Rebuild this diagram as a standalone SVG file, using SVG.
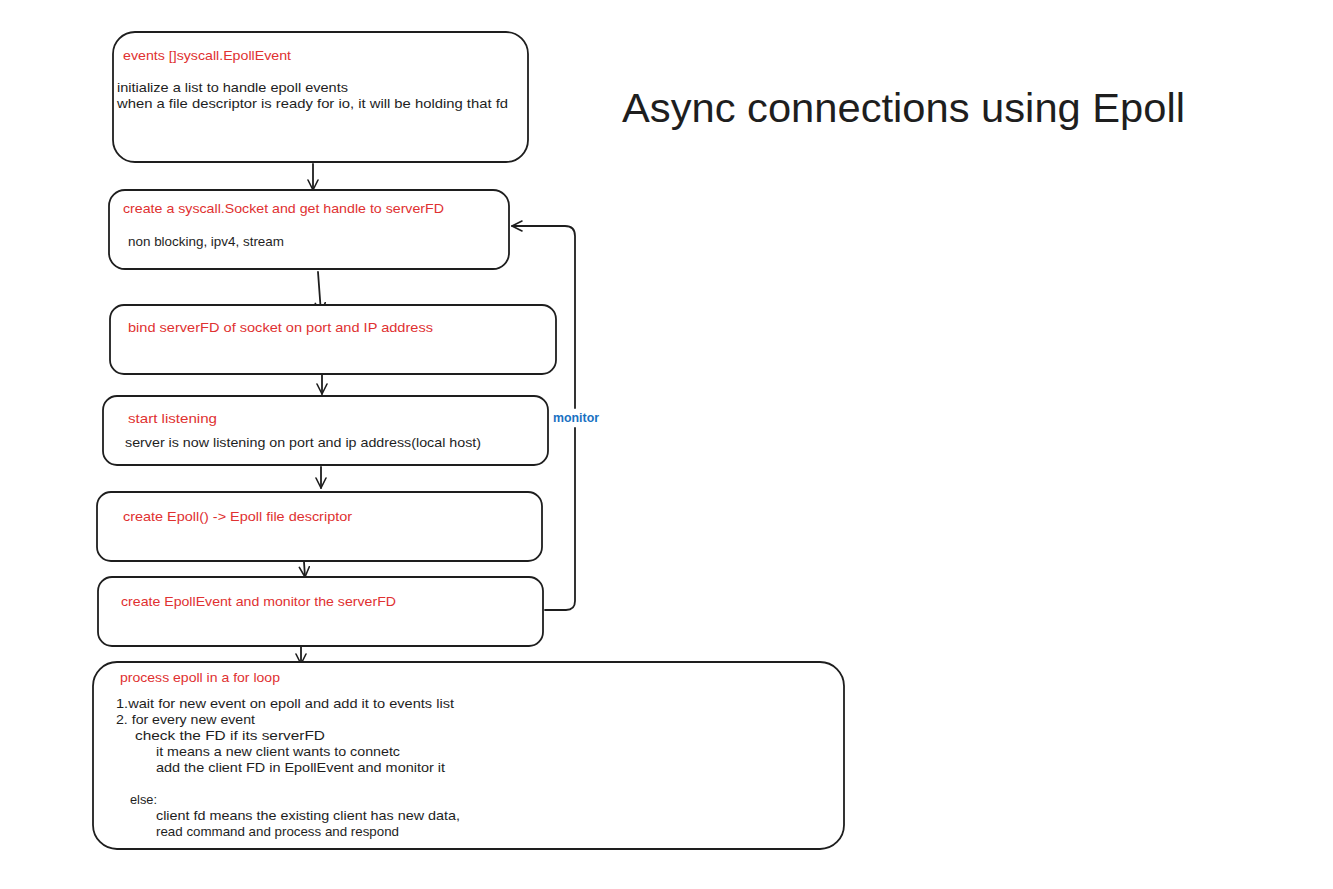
<svg xmlns="http://www.w3.org/2000/svg" width="1333" height="889" viewBox="0 0 1333 889">
<style>
.box{fill:#ffffff;stroke:#1e1e1e;stroke-width:1.8}
.r{fill:#e03131;font-family:"Liberation Sans",Arial,sans-serif;font-size:13px}
.k{fill:#1e1e1e;font-family:"Liberation Sans",Arial,sans-serif;font-size:13px}
.b{fill:#1971c2;font-family:"Liberation Sans",Arial,sans-serif;font-size:12px;font-weight:bold}
.t{fill:#1e1e1e;font-family:"Liberation Sans",Arial,sans-serif;font-size:40px}
.c{fill:none;stroke:#1e1e1e;stroke-width:1.8;stroke-linecap:round;stroke-linejoin:round}
</style>
<defs>
<marker id="ah" viewBox="0 0 12 12" refX="11" refY="6" markerWidth="12" markerHeight="12" markerUnits="userSpaceOnUse" orient="auto">
<path d="M1,1 L11,6 L1,11" fill="none" stroke="#1e1e1e" stroke-width="1.6" stroke-linecap="round" stroke-linejoin="round"/>
</marker>
</defs>
<rect width="1333" height="889" fill="#ffffff"/>
<g id="title">
<text class="t" x="622" y="122" textLength="563" lengthAdjust="spacingAndGlyphs">Async connections using Epoll</text>
</g>
<g id="connectors">
<path class="c" d="M313,164 L313,190" marker-end="url(#ah)"/>
<path class="c" d="M318,272 L321,313" marker-end="url(#ah)"/>
<path class="c" d="M322,375 L322,394" marker-end="url(#ah)"/>
<path class="c" d="M321,467 L321,488" marker-end="url(#ah)"/>
<path class="c" d="M304,562 L305,577" marker-end="url(#ah)"/>
<path class="c" d="M301,647 L301,664" marker-end="url(#ah)"/>
<path class="c" d="M545,610 L566,610 Q575,610 575,601 L575,428 M575,408 L575,236 Q575,226 565,226 L512,226" marker-end="url(#ah)"/>
<text class="b" x="553" y="422" textLength="46" lengthAdjust="spacingAndGlyphs">monitor</text>
</g>
<g id="n1">
<rect class="box" x="113" y="32" width="415" height="130" rx="22"/>
<text class="r" x="123" y="60" textLength="168" lengthAdjust="spacingAndGlyphs">events []syscall.EpollEvent</text>
<text class="k" x="117" y="92" textLength="231" lengthAdjust="spacingAndGlyphs">initialize a list to handle epoll events</text>
<text class="k" x="117" y="108" textLength="391" lengthAdjust="spacingAndGlyphs">when a file descriptor is ready for io, it will be holding that fd</text>
</g>
<g id="n2">
<rect class="box" x="109" y="190" width="400" height="79" rx="16"/>
<text class="r" x="123" y="213" textLength="321" lengthAdjust="spacingAndGlyphs">create a syscall.Socket and get handle to serverFD</text>
<text class="k" x="128" y="246" textLength="156" lengthAdjust="spacingAndGlyphs">non blocking, ipv4, stream</text>
</g>
<g id="n3">
<rect class="box" x="110" y="305" width="446" height="69" rx="14"/>
<text class="r" x="128" y="332" textLength="305" lengthAdjust="spacingAndGlyphs">bind serverFD of socket on port and IP address</text>
</g>
<g id="n4">
<rect class="box" x="103" y="396" width="445" height="69" rx="14"/>
<text class="r" x="128" y="423" textLength="89" lengthAdjust="spacingAndGlyphs">start listening</text>
<text class="k" x="125" y="447" textLength="356" lengthAdjust="spacingAndGlyphs">server is now listening on port and ip address(local host)</text>
</g>
<g id="n5">
<rect class="box" x="97" y="492" width="445" height="69" rx="14"/>
<text class="r" x="123" y="521" textLength="229" lengthAdjust="spacingAndGlyphs">create Epoll() -&gt; Epoll file descriptor</text>
</g>
<g id="n6">
<rect class="box" x="98" y="577" width="445" height="69" rx="14"/>
<text class="r" x="121" y="606" textLength="275" lengthAdjust="spacingAndGlyphs">create EpollEvent and monitor the serverFD</text>
</g>
<g id="n7">
<rect class="box" x="93" y="662" width="751" height="187" rx="24"/>
<text class="r" x="120" y="682" textLength="160" lengthAdjust="spacingAndGlyphs">process epoll in a for loop</text>
<text class="k" x="116" y="708" textLength="338" lengthAdjust="spacingAndGlyphs">1.wait for new event on epoll and add it to events list</text>
<text class="k" x="116" y="724" textLength="139" lengthAdjust="spacingAndGlyphs">2. for every new event</text>
<text class="k" x="135" y="740" textLength="190" lengthAdjust="spacingAndGlyphs">check the FD if its serverFD</text>
<text class="k" x="156" y="756" textLength="244" lengthAdjust="spacingAndGlyphs">it means a new client wants to connetc</text>
<text class="k" x="156" y="772" textLength="289" lengthAdjust="spacingAndGlyphs">add the client FD in EpollEvent and monitor it</text>
<text class="k" x="130" y="804" textLength="27" lengthAdjust="spacingAndGlyphs">else:</text>
<text class="k" x="156" y="820" textLength="304" lengthAdjust="spacingAndGlyphs">client fd means the existing client has new data,</text>
<text class="k" x="156" y="836" textLength="243" lengthAdjust="spacingAndGlyphs">read command and process and respond</text>
</g>
</svg>
